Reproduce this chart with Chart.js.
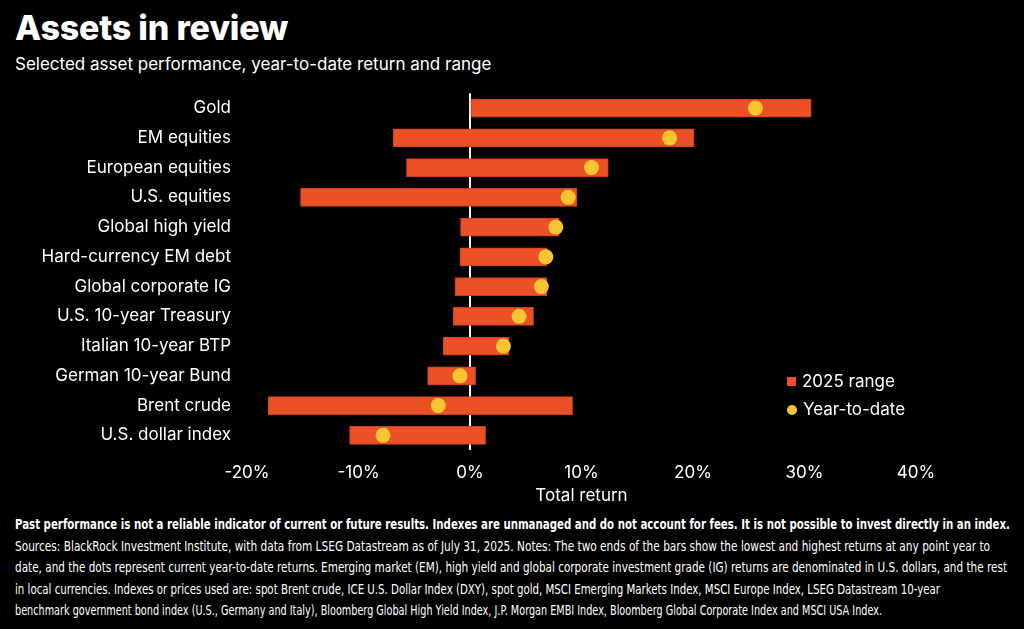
<!DOCTYPE html>
<html>
<head>
<meta charset="utf-8">
<script src="https://cdn.jsdelivr.net/npm/chart.js@4.4.1/dist/chart.umd.min.js"></script>
<style>
  html, body { margin:0; padding:0; background:#000; width:1024px; height:629px; overflow:hidden; }
  body { position:relative; color:#fff; font-family: Inter, "Noto Sans", sans-serif; }
  #title { position:absolute; left:15px; top:7px; font-size:34px; font-weight:800; letter-spacing:-0.2px; }
  #subtitle { position:absolute; left:15px; top:54px; font-size:17px; }
  #wrap { position:absolute; left:0; top:75px; width:1024px; height:431px; }
  #legend { position:absolute; left:787px; top:367px; font-size:17px; line-height:28px; }
  #legend .sw { display:inline-block; width:9px; height:9px; background:#EB5027; margin-right:6px; vertical-align:1px; }
  #legend .dot { display:inline-block; width:10px; height:10px; border-radius:50%; background:#F8C531; margin-right:6px; vertical-align:0px; }
  #notes { position:absolute; left:15px; top:514px; font-family:"DejaVu Sans", sans-serif; font-size:14px; line-height:21.5px; white-space:nowrap; }
  #notes .ln { display:block; transform-origin:0 50%; width:max-content; }
  #notes .bold { font-weight:bold; }
</style>
</head>
<body>
<div id="title">Assets in review</div>
<div id="subtitle">Selected asset performance, year-to-date return and range</div>
<div id="wrap"><canvas id="assetsChart"></canvas></div>
<div id="legend">
  <div><span class="sw"></span>2025 range</div>
  <div><span class="dot"></span>Year-to-date</div>
</div>
<div id="notes">
<span class="ln bold" data-w="995">Past performance is not a reliable indicator of current or future results. Indexes are unmanaged and do not account for fees. It is not possible to invest directly in an index.</span>
<span class="ln" data-w="975">Sources: BlackRock Investment Institute, with data from LSEG Datastream as of July 31, 2025. Notes: The two ends of the bars show the lowest and highest returns at any point year to</span>
<span class="ln" data-w="992">date, and the dots represent current year-to-date returns. Emerging market (EM), high yield and global corporate investment grade (IG) returns are denominated in U.S. dollars, and the rest</span>
<span class="ln" data-w="925">in local currencies. Indexes or prices used are: spot Brent crude, ICE U.S. Dollar Index (DXY), spot gold, MSCI Emerging Markets Index, MSCI Europe Index, LSEG Datastream 10-year</span>
<span class="ln" data-w="867">benchmark government bond index (U.S., Germany and Italy), Bloomberg Global High Yield Index, J.P. Morgan EMBI Index, Bloomberg Global Corporate Index and MSCI USA Index.</span>
</div>

<script>
// asset categories, top to bottom
const assets = ['Gold','EM equities','European equities','U.S. equities','Global high yield',
  'Hard-currency EM debt','Global corporate IG','U.S. 10-year Treasury','Italian 10-year BTP',
  'German 10-year Bund','Brent crude','U.S. dollar index'];

// 2025 range, lowest and highest (%)
const rangeLow  = [0, -6.9, -5.7, -15.2, -0.85, -0.9, -1.35, -1.5, -2.4, -3.8, -18.1, -10.8];
const rangeHigh = [30.6, 20.1, 12.4, 9.6, 8.0, 6.9, 6.9, 5.7, 3.5, 0.5, 9.2, 1.4];

// year-to-date return (%)
const ytd = [25.6, 17.9, 10.9, 8.8, 7.7, 6.8, 6.4, 4.4, 3.0, -0.9, -2.85, -7.8];

// x axis ticks
const xTicks = [-20, -10, 0, 10, 20, 30, 40];

const orange = '#EB5027';
const yellow = '#F8C531';

// squeeze footnote lines to the narrow widths of the original
document.querySelectorAll('#notes .ln').forEach(el => {
  const w = el.getBoundingClientRect().width;
  el.style.transform = 'scaleX(' + (parseFloat(el.dataset.w) / w) + ')';
});

function initAssetsChart(){
  const ctx = document.getElementById('assetsChart').getContext('2d');
  const data = {
    labels: assets,
    datasets: [
      {
        type: 'line',
        label: 'Year-to-date',
        data: assets.map((a, i) => ({ x: ytd[i], y: a })),
        showLine: false,
        pointRadius: 7.5,
        pointHoverRadius: 7.5,
        pointBackgroundColor: yellow,
        pointBorderWidth: 0,
        order: 0
      },
      {
        type: 'bar',
        label: '2025 range',
        data: assets.map((a, i) => [rangeLow[i], rangeHigh[i]]),
        backgroundColor: orange,
        borderColor: '#C94020',
        borderWidth: 1,
        borderSkipped: false,
        barThickness: 18,
        order: 1
      }
    ]
  };
  new Chart(ctx, {
    type: 'bar',
    data: data,
    options: {
      indexAxis: 'y',
      responsive: true,
      maintainAspectRatio: false,
      animation: false,
      layout: { padding: { top: 1, right: 108, left: 0, bottom: 0 } },
      plugins: { legend: { display: false }, tooltip: { enabled: false } },
      scales: {
        x: {
          type: 'linear',
          min: -20, max: 40,
          afterBuildTicks: (axis) => { axis.ticks = xTicks.map(v => ({ value: v })); },
          grid: {
            drawTicks: false,
            color: (c) => c.tick && c.tick.value === 0 ? '#f2f2f2' : 'rgba(0,0,0,0)',
            lineWidth: 2
          },
          border: { display: false },
          ticks: { color: '#fff', font: { family: 'Inter', size: 17 }, padding: 12, callback: v => v + '%' },
          title: { display: true, text: 'Total return', color: '#fff', font: { family: 'Inter', size: 17 }, padding: { top: -9, bottom: 0 } }
        },
        y: {
          type: 'category',
          grid: { display: false },
          border: { display: false },
          ticks: { color: '#fff', font: { family: 'Inter', size: 17 }, padding: 8 },
          afterFit: (axis) => { axis.width = 247; }
        }
      }
    }
  });
}

initAssetsChart();
</script>
</body>
</html>
